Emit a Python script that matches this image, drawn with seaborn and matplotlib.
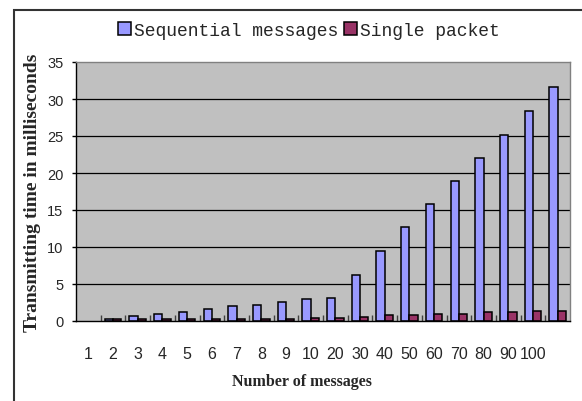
import matplotlib
matplotlib.use('Agg')
import matplotlib.pyplot as plt
import pandas as pd
import seaborn as sns
from matplotlib.patches import Rectangle

# dados (a primeira categoria fica vazia, como no original)
categorias = ['1', '2', '3', '4', '5', '6', '7', '8', '9', '10',
              '20', '30', '40', '50', '60', '70', '80', '90', '100', ' ']
sequencial = [None, 0.32, 0.63, 1.0, 1.17, 1.58, 1.98, 2.16, 2.52, 2.97,
              3.16, 6.27, 9.42, 12.7, 15.86, 18.97, 22.08, 25.19, 28.34, 31.6]
pacote = [None, 0.3, 0.3, 0.3, 0.3, 0.3, 0.3, 0.3, 0.3, 0.36,
          0.36, 0.59, 0.77, 0.77, 1.0, 1.0, 1.17, 1.17, 1.35, 1.35]
series = ['Sequential messages', 'Single packet']
cores = ['#9999FF', '#993366']

df = pd.DataFrame({
    'categoria': categorias * 2,
    'valor': pd.to_numeric(pd.Series(sequencial + pacote, dtype=object)),
    'serie': [series[0]] * len(categorias) + [series[1]] * len(categorias),
})

sns.set_theme('paper', 'white')
fig = plt.figure(figsize=(5.82, 4.02), dpi=100)
ax = fig.add_axes([76 / 582, 1 - 322 / 402, 494 / 582, 259 / 402])
ax.set_facecolor('#C0C0C0')

sns.barplot(data=df, x='categoria', y='valor', hue='serie', order=categorias,
            hue_order=series, palette=cores, width=0.67, edgecolor='black',
            linewidth=1.1, saturation=1, ax=ax, legend=True)

ax.set_ylim(0, 35)
ax.set_xlim(-0.5, len(categorias) - 0.5)
ax.set_yticks(range(0, 36, 5))
for v in range(5, 31, 5):
    ax.axhline(v, color='black', lw=0.9, zorder=0.5)

for s in ['top', 'right']:
    ax.spines[s].set_color('#808080')
    ax.spines[s].set_linewidth(1)
for s in ['left', 'bottom']:
    ax.spines[s].set_color('black')
    ax.spines[s].set_linewidth(1)

ax.tick_params(axis='y', length=3, width=1, color='black', pad=6,
               left=True, labelsize=10.5)
ax.tick_params(axis='x', length=0, pad=18, labelsize=11.5)
ax.set_xticks(range(len(categorias)), categorias)
ax.set_xticks([i + 0.5 for i in range(len(categorias) - 1)], minor=True)
ax.tick_params(axis='x', which='minor', direction='in', length=4, width=1,
               color='#404040', bottom=True)
for t in ax.get_xticklabels() + ax.get_yticklabels():
    t.set_fontfamily('Liberation Sans')

ax.set_xlabel('Number of messages', fontfamily='Liberation Serif',
              fontweight='bold', fontsize=11.5)
ax.set_ylabel('Transmitting time in milliseconds', fontfamily='Liberation Serif',
              fontweight='bold', fontsize=14)
ax.xaxis.set_label_coords((302 - 76) / 494, -(374 - 322) / 259)
ax.yaxis.set_label_coords(-(76 - 41) / 494, 0.5)

handles, labels = ax.get_legend_handles_labels()
ax.get_legend().remove()
fig.legend(handles, labels, loc='center', bbox_to_anchor=(309 / 582, 1 - 31 / 402),
           ncol=2, frameon=False, prop={'family': 'Liberation Mono', 'size': 13},
           handlelength=0.7, handleheight=0.7, handletextpad=0.2,
           columnspacing=0.3, borderaxespad=0)

# moldura do grafico
fig.patches.append(Rectangle((14 / 582, -0.1), 1.0, 1.1 - 11 / 402,
                             transform=fig.transFigure, fill=False,
                             edgecolor='#333333', lw=1.5))

fig.savefig('out.png', dpi=100)
